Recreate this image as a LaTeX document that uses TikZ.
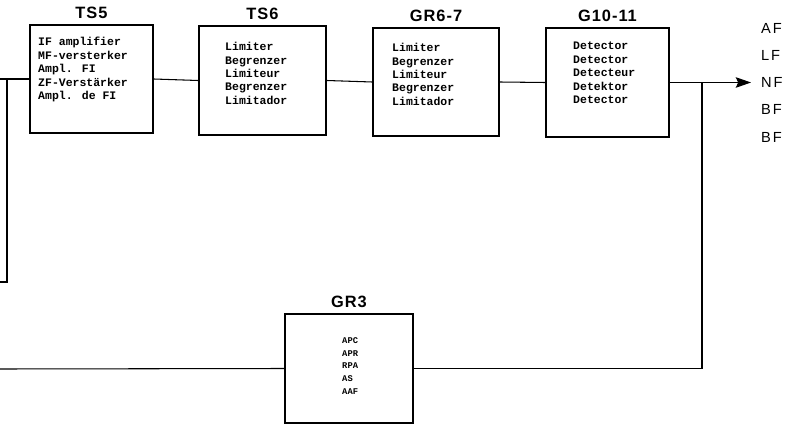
\documentclass[tikz,border=0pt]{standalone}
\usepackage{fontspec}
\setmainfont{Liberation Sans}
\newfontfamily\typefont{Liberation Mono}
\usetikzlibrary{arrows.meta}
\begin{document}
\begin{tikzpicture}[x=0.03cm, y=-0.03cm, >={Stealth[length=13pt, width=9pt, inset=2pt]},
  box/.style={draw, line width=1.3pt, inner sep=0pt},
  ttl/.style={font=\fontsize{14}{16}\selectfont\bfseries\addfontfeature{LetterSpace=6}, anchor=base},
  txt/.style={font=\typefont\fontsize{9.8}{11.5}\selectfont\bfseries, align=left, anchor=north west, inner sep=0pt},
  lab/.style={font=\fontsize{12.5}{14}\selectfont\addfontfeature{LetterSpace=12}, anchor=west, inner sep=0pt},
  wire/.style={line width=0.9pt}]
\useasboundingbox (0,0) rectangle (787,425);
\foreach \nm/\l/\t/\r/\b/\ttl in {ts5/30/25/153/133/TS5, ts6/199/26/326/135/TS6,
    gr67/373/28/499/136/GR6-7, g1011/546/28/669/137/G10-11, gr3/285/314/413/423/GR3} {
  \node[box, minimum width={(\r-\l)*0.03cm}, minimum height={(\b-\t)*0.03cm}] (\nm) at ({(\l+\r)/2},{(\t+\b)/2}) {};
  \node[ttl] (\nm t) at ([yshift=0.16cm]\nm.north) {\ttl};
}
% box texts
\node[txt] (ts5x) at (38,37) {IF amplifier\\MF-versterker\\Ampl. FI\\ZF-Verstärker\\Ampl. de FI};
\node[txt] (ts6x) at (225,42) {Limiter\\Begrenzer\\Limiteur\\Begrenzer\\Limitador};
\node[txt] (gr67x) at (392,43) {Limiter\\Begrenzer\\Limiteur\\Begrenzer\\Limitador};
\node[txt] (g1011x) at (573,42) {Detector\\Detector\\Detecteur\\Detektor\\Detector};
\node[txt, font=\typefont\fontsize{7.5}{11}\selectfont\bfseries] (gr3x) at (342,337) {APC\\APR\\RPA\\AS\\AAF};
% output labels
\foreach \i/\s in {0/AF, 1/LF, 2/NF, 3/BF, 4/BF} {
  \node[lab] (out\i) at (761,{28+\i*27.3}) {\s};
}
% connectors
\coordinate (in) at (0,79);
\coordinate (j1) at (7,79);
\coordinate (fb) at (0,282);
\coordinate (j2) at (702,82.5);
\coordinate (tip) at (751,82.5);
\coordinate (ret) at (0,369);
\draw[wire] (in) -- (ts5.west);
\draw[wire] (j1) |- (fb);
\draw[wire] (ts5.east) -- (ts6.west);
\draw[wire] (ts6.east) -- (gr67.west);
\draw[wire] (gr67.east) -- (g1011.west);
\draw[wire, ->] (g1011.east) -- (tip);
\draw[wire] (j2) |- (gr3.east);
\draw[wire] (ret) -- (gr3.west);
\end{tikzpicture}
\end{document}
